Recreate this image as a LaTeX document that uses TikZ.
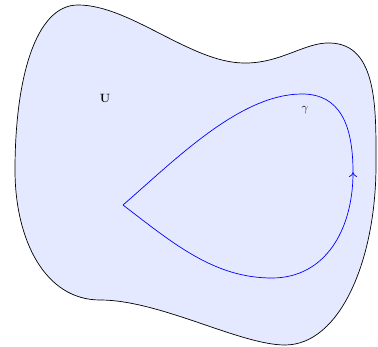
\documentclass[tikz,border=0pt]{standalone}
\usetikzlibrary{arrows.meta}
\definecolor{regionfill}{RGB}{229,233,255}
\begin{document}
\begin{tikzpicture}[x=1pt,y=-1pt,
  region/.style={draw=black,line width=0.7pt,fill=regionfill},
  curve/.style={draw=blue,line width=0.7pt},
  lbl/.style={inner sep=0pt,font=\large}]
\useasboundingbox (0,0) rectangle (378,347);
\coordinate (p1) at (78,5);
\coordinate (p2) at (243,63);
\coordinate (p3) at (330,43);
\coordinate (p4) at (376,165);
\coordinate (p5) at (285,345);
\coordinate (p6) at (100,300);
\coordinate (p7) at (15,170);
\draw[region] (p1) .. controls (130,5) and (190,62) .. (p2)
  .. controls (280,64) and (305,42) .. (p3)
  .. controls (378,44) and (376,110) .. (p4)
  .. controls (376,260) and (340,345) .. (p5)
  .. controls (240,345) and (160,300) .. (p6)
  .. controls (45,300) and (15,240) .. (p7)
  .. controls (15,80) and (35,5) .. (p1) -- cycle;
\coordinate (cusp) at (123,205);
\coordinate (bot) at (272,278);
\coordinate (rt) at (353,172);
\coordinate (top) at (302,94);
\draw[curve,-{To[length=5pt,width=8pt]}] (cusp) .. controls (175,245) and (215,278) .. (bot)
  .. controls (325,278) and (353,230) .. (rt);
\draw[curve] (rt) .. controls (353,125) and (340,94) .. (top)
  .. controls (240,94) and (175,160) .. (cusp);
\node[lbl] (U) at (105,98) {$\mathbf{U}$};
\node[lbl] (g) at (305,110) {$\gamma$};
\end{tikzpicture}
\end{document}
